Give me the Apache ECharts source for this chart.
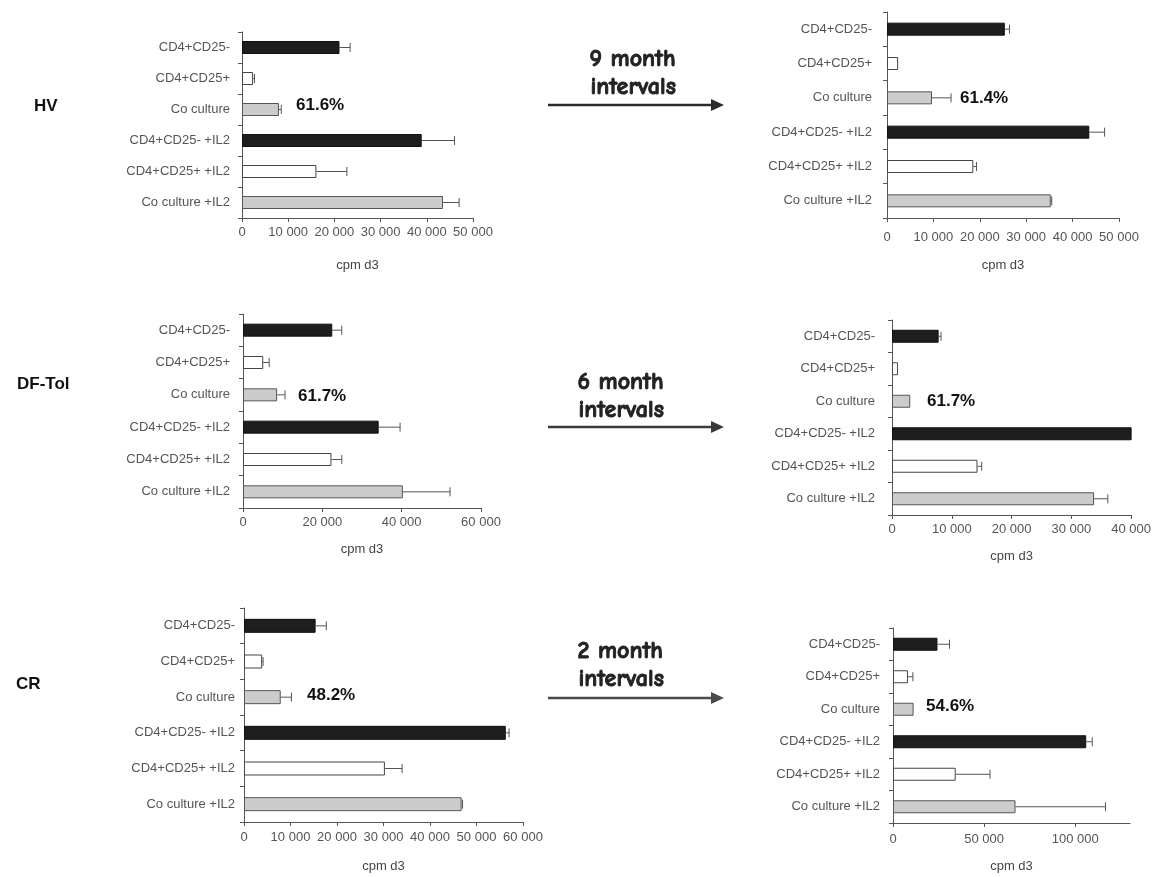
<!DOCTYPE html>
<html>
<head>
<meta charset="utf-8">
<title>cpm d3 – HV, DF-Tol, CR</title>
<script src="https://cdn.jsdelivr.net/npm/echarts@6/dist/echarts.min.js"></script>
<style>
  html, body { margin: 0; padding: 0; background: #fff; }
  #chart { width: 1154px; height: 877px; }
</style>
</head>
<body>
<div id="chart"></div>
<script>
// Cell populations shown on every panel (top to bottom)
const categories = ['CD4+CD25-', 'CD4+CD25+', 'Co culture', 'CD4+CD25- +IL2', 'CD4+CD25+ +IL2', 'Co culture +IL2'];

// Proliferation (cpm on day 3) and upper error, per patient and time point
const hvFirst      = [21100, 2400, 8000, 38900, 16100, 43500];
const hvFirstErr   = [2300, 300, 500, 7100, 6600, 3500];
const hvSecond     = [25400, 2400, 9700, 43600, 18600, 35300];
const hvSecondErr  = [1000, 0, 4100, 3300, 700, 200];

const dfFirst      = [22500, 5100, 8600, 34200, 22300, 40300];
const dfFirstErr   = [2400, 1500, 2000, 5400, 2600, 11900];
const dfSecond     = [7800, 1000, 3050, 40400, 14300, 33800];
const dfSecondErr  = [400, 0, 0, 0, 700, 2300];

const crFirst      = [15400, 3900, 7900, 56300, 30300, 46800];
const crFirstErr   = [2300, 200, 2300, 700, 3700, 200];
const crSecond     = [24400, 8200, 11300, 106000, 34400, 67200];
const crSecondErr  = [6600, 2700, 0, 3300, 18800, 49400];

// Suppression percentages written next to the co-culture bar
const suppression = ['61.6%', '61.4%', '61.7%', '61.7%', '48.2%', '54.6%'];

// Patient groups and follow-up intervals
const patients  = ['HV', 'DF-Tol', 'CR'];
const intervals = ['9 month', '6 month', '2 month'];

// x-axis scales
const axisMax      = [50000, 50000, 60000, 40000, 60000, 130000];
const axisInterval = [10000, 10000, 20000, 10000, 10000, 50000];

const values = [hvFirst, hvSecond, dfFirst, dfSecond, crFirst, crSecond];
const errors = [hvFirstErr, hvSecondErr, dfFirstErr, dfSecondErr, crFirstErr, crSecondErr];

// ---- layout and styling ----
const FONT = '"Liberation Sans", Arial, Helvetica, sans-serif';
const grids = [
  { left: 242, top: 32,  width: 231, height: 186 },
  { left: 887, top: 12,  width: 232, height: 206 },
  { left: 243, top: 314, width: 238, height: 194 },
  { left: 892, top: 320, width: 240, height: 195 },
  { left: 244, top: 608, width: 279, height: 214 },
  { left: 893, top: 628, width: 237, height: 195 }
];
const tickLabelMargin = [8, 13, 8, 8, 9, 10];
const nameGaps = [41, 41, 35, 35, 38, 37];
const catLabelMargin = [12, 15, 13, 17, 9, 13];
const barWidths = [13, 13, 13, 13, 14, 13];
const pctPos = [[296, 106], [960, 99], [298, 397], [927, 402], [307, 696], [926, 707]];

// Bar colours by row: effector (black), regulatory (white), co-culture (grey)
const rowFill   = ['#1e1e1e', '#ffffff', '#cccccc', '#1e1e1e', '#ffffff', '#cccccc'];
const rowBorder = ['#111111', '#444444', '#555555', '#111111', '#444444', '#555555'];
const AXIS = '#555555';

function fmtThousands(v) {
  return v === 0 ? '0' : String(v).replace(/\B(?=(\d{3})+(?!\d))/g, ' ');
}

const option = {
  animation: false,
  backgroundColor: '#ffffff',
  grid: grids.map(g => ({ left: g.left, top: g.top, width: g.width, height: g.height, containLabel: false })),
  xAxis: grids.map((g, i) => {
    const ticks = [];
    for (let v = 0; v <= axisMax[i]; v += axisInterval[i]) ticks.push(v);
    return {
      type: 'value',
      gridIndex: i,
      min: 0,
      max: axisMax[i],
      interval: axisInterval[i],
      name: 'cpm d3',
      nameLocation: 'middle',
      nameGap: nameGaps[i],
      nameTextStyle: { fontFamily: FONT, fontSize: 13, color: '#444' },
      splitLine: { show: false },
      axisLine: { show: true, lineStyle: { color: AXIS, width: 1 } },
      axisTick: { show: true, length: 4, lineStyle: { color: AXIS }, customValues: ticks },
      axisLabel: {
        margin: tickLabelMargin[i],
        fontFamily: FONT, fontSize: 13, color: '#555',
        customValues: ticks,
        formatter: fmtThousands
      }
    };
  }),
  yAxis: grids.map((g, i) => ({
    type: 'category',
    gridIndex: i,
    inverse: true,
    data: categories,
    axisLine: { show: true, lineStyle: { color: AXIS, width: 1 } },
    axisTick: { show: true, length: 4, alignWithLabel: false, lineStyle: { color: AXIS } },
    axisLabel: { margin: catLabelMargin[i], fontFamily: FONT, fontSize: 13, color: '#555' },
    splitLine: { show: false }
  })),
  series: [],
  graphic: []
};

values.forEach((vals, i) => {
  option.series.push({
    type: 'bar',
    xAxisIndex: i,
    yAxisIndex: i,
    barWidth: barWidths[i],
    data: vals.map((v, r) => ({
      value: v,
      itemStyle: { color: rowFill[r], borderColor: rowBorder[r], borderWidth: 1 }
    })),
    z: 2
  });
  // one-sided error bars (mean -> mean + error, with a cap)
  option.series.push({
    type: 'custom',
    xAxisIndex: i,
    yAxisIndex: i,
    data: vals.map((v, r) => [v, r, errors[i][r]]),
    encode: { x: 0, y: 1 },
    z: 3,
    renderItem: function (params, api) {
      const v = api.value(0), r = api.value(1), e = api.value(2);
      if (!e) return null;
      const a = api.coord([v, r]);
      const b = api.coord([v + e, r]);
      const style = { stroke: '#555555', lineWidth: 1, fill: null };
      return {
        type: 'group',
        children: [
          { type: 'line', shape: { x1: a[0], y1: a[1], x2: b[0], y2: b[1] }, style: style },
          { type: 'line', shape: { x1: b[0], y1: b[1] - 4.5, x2: b[0], y2: b[1] + 4.5 }, style: style }
        ]
      };
    }
  });
  option.graphic.push({
    type: 'text',
    left: pctPos[i][0],
    top: pctPos[i][1] - 9,
    style: { text: suppression[i], font: 'bold 17px ' + FONT, fill: '#111' }
  });
});

// Patient names on the left
const patientPos = [[34, 107], [17, 385], [16, 685]];
patients.forEach((p, k) => {
  option.graphic.push({
    type: 'text',
    left: patientPos[k][0],
    top: patientPos[k][1] - 9,
    style: { text: p, font: 'bold 17px ' + FONT, fill: '#111' }
  });
});

// Follow-up arrows between the two time points
const arrowY = [105, 427, 698];
const textLeft = [589, 577, 577];
const textY = [[59, 87], [382, 410], [651, 679]];
const arrowColor = ['#2a2a2a', '#3a3a3a', '#4a4a4a'];
const INTERVAL_FONT = 'bold 24px "Comic Sans MS", "Comic Neue", "DejaVu Sans", sans-serif';
intervals.forEach((t, k) => {
  option.graphic.push({
    type: 'line',
    shape: { x1: 548, y1: arrowY[k], x2: 713, y2: arrowY[k] },
    style: { stroke: arrowColor[k], lineWidth: 2.5 }
  });
  option.graphic.push({
    type: 'polygon',
    shape: { points: [[711, arrowY[k] - 6], [724, arrowY[k]], [711, arrowY[k] + 6]] },
    style: { fill: arrowColor[k] }
  });
  option.graphic.push({
    type: 'text', left: textLeft[k], top: textY[k][0] - 12,
    style: { text: t, font: INTERVAL_FONT, fill: '#222', stroke: '#222', lineWidth: 0.9 }
  });
  option.graphic.push({
    type: 'text', left: textLeft[k] + 1, top: textY[k][1] - 12,
    style: { text: 'intervals', font: INTERVAL_FONT, fill: '#222', stroke: '#222', lineWidth: 0.9 }
  });
});

const chart = echarts.init(document.getElementById('chart'), null, { renderer: 'canvas' });
chart.setOption(option);
</script>
</body>
</html>
